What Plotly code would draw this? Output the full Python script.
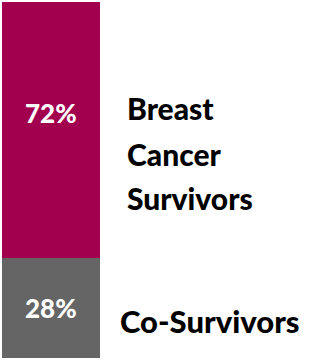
import plotly.graph_objects as go

# ---- data ----
categories = ["Survivors"]
series_names = ["Co-Survivors", "Breast Cancer Survivors"]
series_values = [28, 72]          # percent, stacked from bottom
series_colors = ["#656565", "#A2004F"]
label_lines = [["Co-Survivors"], ["Breast", "Cancer", "Survivors"]]

W, H = 309, 361
fig = go.Figure()
for name, val, col in zip(series_names, series_values, series_colors):
    fig.add_trace(go.Bar(
        x=categories, y=[val], name=name, marker=dict(color=col, line=dict(width=0)),
        hoverinfo="skip", showlegend=False,
    ))

annotations = []
base = 0
pct_shift = [0, 17]
for i, val in enumerate(series_values):
    annotations.append(dict(
        x=categories[0], y=base + val / 2, xref="x", yref="y",
        text=f"{val}%", showarrow=False, yshift=pct_shift[i],
        font=dict(family="Lato", size=26, color="white", weight=900),
    ))
    base += val

# side labels, one annotation per line
plot_top, plot_h = 2, 356
def paper_y(px):
    return (plot_top + plot_h - px) / plot_h

side_specs = [
    (label_lines[0], [321], 18, 31),
    (label_lines[1], [107.5, 153.5, 198.5], 25, 30),
]
for lines, ys, xs, fs in side_specs:
    for line, py in zip(lines, ys):
        annotations.append(dict(
            x=1, y=paper_y(py), xref="paper", yref="paper",
            xanchor="left", yanchor="middle", xshift=xs,
            text=line, showarrow=False,
            font=dict(family="Lato", size=fs, color="black", weight=900),
        ))

fig.update_layout(
    width=W, height=H,
    margin=dict(l=2, r=209, t=2, b=3),
    barmode="stack", bargap=0,
    plot_bgcolor="white", paper_bgcolor="white",
    xaxis=dict(visible=False),
    yaxis=dict(visible=False, range=[0, 100]),
    annotations=annotations,
)
fig.write_html("out.html", config={"displayModeBar": False},
               post_script="document.body.style.margin='0';")
